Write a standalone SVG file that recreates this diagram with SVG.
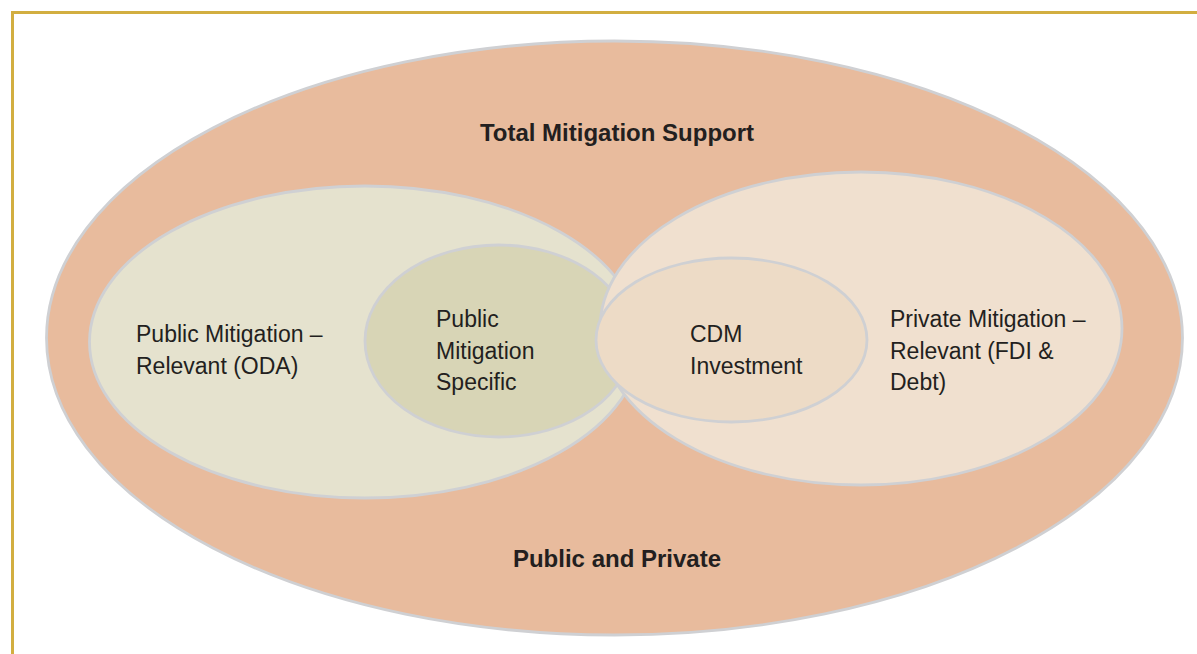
<svg xmlns="http://www.w3.org/2000/svg" width="1197" height="654" viewBox="0 0 1197 654">
<style>
.e{stroke:#CFD0D3;stroke-width:2.8}
.t{font-family:"Liberation Sans",Arial,sans-serif;font-size:23px;fill:#231F20}
.b{font-weight:bold;text-anchor:middle;font-size:24px}
</style>
<rect width="1197" height="654" fill="#FFFFFF"/>
<path d="M12.5 654 V12.5 H1197" fill="none" stroke="#D2AE40" stroke-width="3"/>
<g id="total">
<ellipse class="e" cx="614.5" cy="338" rx="568" ry="297" fill="#E8BB9D"/>
<text class="t b" x="617" y="141">Total Mitigation Support</text>
<text class="t b" x="617" y="567">Public and Private</text>
</g>
<g id="public-relevant">
<ellipse class="e" cx="365" cy="342" rx="275.5" ry="156" fill="#E5E2CE"/>
<text class="t" x="136" y="342">Public Mitigation –</text>
<text class="t" x="136" y="373.5">Relevant (ODA)</text>
</g>
<g id="public-specific">
<ellipse class="e" cx="498.5" cy="341" rx="133.5" ry="96" fill="#D8D5B6"/>
<text class="t" x="436" y="327">Public</text>
<text class="t" x="436" y="358.5">Mitigation</text>
<text class="t" x="436" y="390">Specific</text>
</g>
<g id="private-relevant">
<ellipse class="e" cx="861" cy="328.5" rx="261" ry="156.5" fill="#F0E0CF"/>
<text class="t" x="890" y="327">Private Mitigation –</text>
<text class="t" x="890" y="358.5">Relevant (FDI &amp;</text>
<text class="t" x="890" y="390">Debt)</text>
</g>
<g id="cdm">
<ellipse class="e" cx="731.5" cy="340" rx="135.5" ry="82" fill="#EDDBC6"/>
<text class="t" x="690" y="342">CDM</text>
<text class="t" x="690" y="373.5">Investment</text>
</g>
<g id="connectors"></g>
</svg>
